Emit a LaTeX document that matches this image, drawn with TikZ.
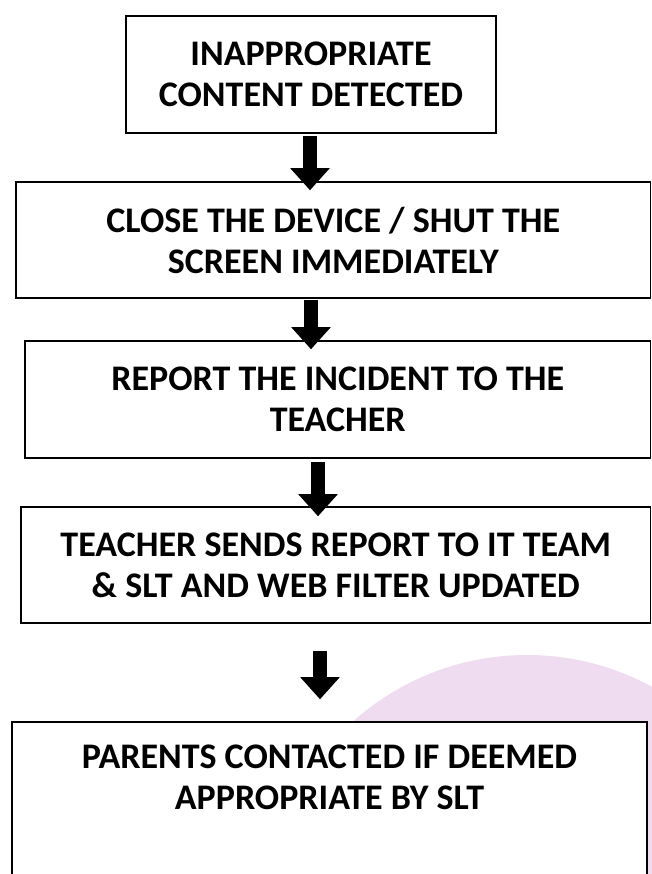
\documentclass[tikz,border=0pt]{standalone}
\usepackage{fontspec}
\setmainfont{Carlito}
\usetikzlibrary{arrows.meta,calc}
\definecolor{lilac}{HTML}{F0DCF0}
\definecolor{shade}{HTML}{A0A0A0}
\tikzset{
  stepbox/.style={draw=black, line width=1.6pt, fill=white, rectangle,
    inner sep=0pt, align=center,
    font=\fontsize{36}{41}\selectfont\bfseries},
  boxtext/.style={align=center, inner sep=0pt,
    font=\fontsize{36}{41}\selectfont\bfseries},
  blockarrow/.style={line width=14pt, draw=black,
    -{Triangle[width=38pt,length=22pt]}},
  arrowshadow/.style={line width=14pt, draw=shade,
    -{Triangle[width=38pt,length=22pt]}, xshift=3pt, yshift=-3pt}
}
\begin{document}
\begin{tikzpicture}[x=1pt,y=-1pt]
  \useasboundingbox (0,0) rectangle (652,874);
  % soft lilac disc behind the lower boxes
  \begin{scope}
    \clip (0,0) rectangle (652,874);
    \fill[lilac] (527,916) circle[radius=261];
  \end{scope}

  % flow steps
  \node[stepbox, minimum width=370pt, minimum height=117pt] (b1) at (311,74.5)
    {INAPPROPRIATE\\CONTENT DETECTED};
  \node[stepbox, minimum width=634.5pt, minimum height=116pt] (b2) at (333.25,240)
    {CLOSE THE DEVICE / SHUT THE\\SCREEN IMMEDIATELY};
  \node[stepbox, minimum width=625.5pt, minimum height=117pt] (b3) at (337.75,399.5)
    {REPORT THE INCIDENT TO THE\\TEACHER};
  \node[stepbox, minimum width=629.5pt, minimum height=116pt] (b4) at (335.75,565)
    {TEACHER SENDS REPORT TO IT TEAM\\\& SLT AND WEB FILTER UPDATED};
  \node[stepbox, minimum width=635pt, minimum height=160pt] (b5) at (329.5,802) {};
  \node[boxtext] (t5) at (329.5,777)
    {PARENTS CONTACTED IF DEEMED\\APPROPRIATE BY SLT};

  % arrow columns
  \coordinate (c1) at (310,0);
  \coordinate (c2) at (311,0);
  \coordinate (c3) at (318,0);
  \coordinate (c4) at (320,0);

  % block arrows with drop shadow
  \foreach \from/\to/\col/\gap/\over in {b1/b2/c1/2/9, b2/b3/c2/1/9, b3/b4/c3/3/10} {
    \draw[arrowshadow] ([yshift=-\gap pt]\from.south -| \col) -- ([yshift=-\over pt]\to.north -| \col);
    \draw[blockarrow] ([yshift=-\gap pt]\from.south -| \col) -- ([yshift=-\over pt]\to.north -| \col);
  }
  \draw[arrowshadow] ([yshift=-27pt]b4.south -| c4) -- ([yshift=22pt]b5.north -| c4);
  \draw[blockarrow] ([yshift=-27pt]b4.south -| c4) -- ([yshift=22pt]b5.north -| c4);
\end{tikzpicture}
\end{document}
